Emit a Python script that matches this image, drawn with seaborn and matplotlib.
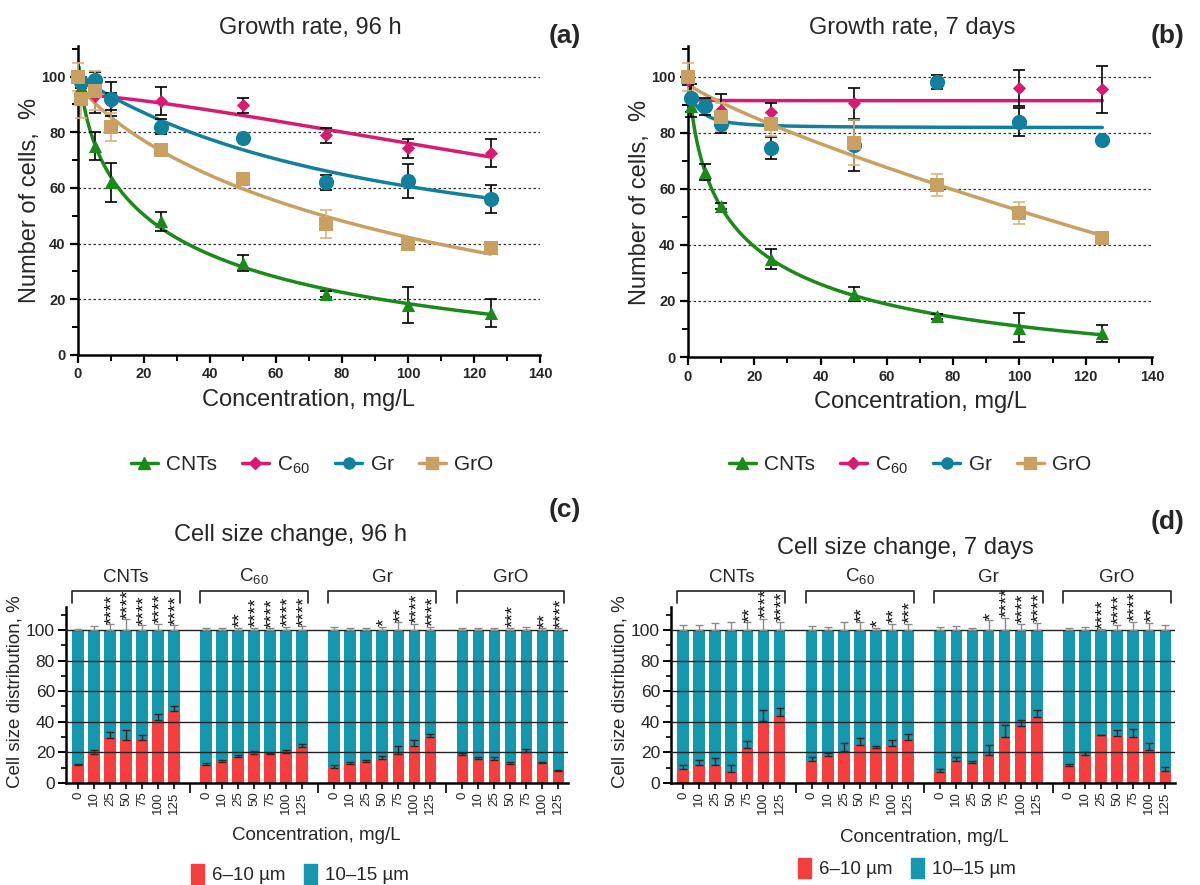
import numpy as np
import pandas as pd
import matplotlib
matplotlib.use("Agg")
import matplotlib.pyplot as plt
import seaborn as sns
from matplotlib.lines import Line2D
from matplotlib.patches import Patch
from matplotlib.ticker import MultipleLocator

sns.set_theme(style="ticks")
plt.rcParams['font.family'] = ['Liberation Sans', 'DejaVu Sans']
plt.rcParams['mathtext.fontset'] = 'custom'
plt.rcParams['mathtext.rm'] = 'Liberation Sans'
plt.rcParams['mathtext.it'] = 'Liberation Sans:italic'

nan = np.nan

# ---- growth rate data (a, b) ----
conc = np.array([0, 1, 5, 10, 25, 50, 75, 100, 125])
names = ['CNTs', 'C60', 'Gr', 'GrO']
labels = {'CNTs': 'CNTs', 'C60': 'C$_{60}$', 'Gr': 'Gr', 'GrO': 'GrO'}

CNTs_96h = [nan, 96.5, 75, 62, 48, 33, 22, 18, 15]
C60_96h = [nan, nan, 93, 91, 91.3, 89.7, 79, 74.2, 72.5]
Gr_96h = [nan, 98, 98.7, 92, 82, 78, 62, 62.5, 56]
GrO_96h = [100, 92, 95, 82, 73.5, 63.3, 47, 40, 38.5]
CNTs_96h_err = [0, 3, 5, 7, 3.5, 3, 1, 6.5, 5]
C60_96h_err = [0, 0, 6, 3, 5, 2.7, 2.7, 3.5, 5]
Gr_96h_err = [0, 2, 3, 6, 2.7, 0, 2.7, 6, 5]
GrO_96h_err = [5, 7, 7, 5, 1, 1, 5, 1, 1.5]

CNTs_7d = [nan, 89.5, 66, 54, 35, 22.5, 14.5, 10.5, 8.5]
C60_7d = [99, nan, nan, 88, 87.5, 90.5, nan, 96, 95.5]
Gr_7d = [nan, 92.3, 89.5, 83, 74.5, 75.5, 98, 84, 77.5]
GrO_7d = [100, nan, nan, 85.5, 83, 76.5, 61.3, 51.4, 42.6]
CNTs_7d_err = [0, 4, 3, 1, 3.5, 2.5, 1, 5.3, 3]
C60_7d_err = [2, 0, 0, 6, 3, 5.5, 0, 6.5, 8.5]
Gr_7d_err = [0, 5, 3, 3, 4, 9, 2.5, 5, 0]
GrO_7d_err = [5, 0, 0, 5, 4, 8, 4, 4, 2]

# ---- cell size data (c, d): share of 6-10 um cells ----
bar_conc = [0, 10, 25, 50, 75, 100, 125]
small_96h = {
    'CNTs': [11.5, 19.1, 29.6, 27.8, 28.3, 41.1, 47],
    'C60': [12, 13.9, 16.7, 19.1, 18.7, 19.3, 23.3],
    'Gr': [10, 12.2, 13.7, 15.7, 18.9, 23.9, 30],
    'GrO': [18, 15.7, 15.2, 12.2, 20, 13, 7.6],
}
err_96h = {
    'CNTs': [0.7, 2.6, 3.7, 7, 3, 4, 3],
    'C60': [1, 1, 1.5, 1.5, 1, 2, 2.5],
    'Gr': [2, 1.5, 1.5, 2, 5, 4, 2],
    'GrO': [1.5, 1, 1.5, 1.5, 2, 1, 1],
}
stars_96h = {
    'CNTs': ['', '', '****', '****', '****', '****', '****'],
    'C60': ['', '', '**', '****', '****', '****', '****'],
    'Gr': ['', '', '', '*', '**', '****', '****'],
    'GrO': ['', '', '', '***', '', '**', '****'],
}
small_7d = {
    'CNTs': [8.9, 11.7, 11.5, 7, 22.6, 40.4, 43.7],
    'C60': [14.6, 17.4, 21.1, 24.6, 22.8, 24.3, 27.8],
    'Gr': [7.2, 14.6, 13.3, 18.5, 30, 37.2, 42.8],
    'GrO': [11.3, 18, 31.3, 30.9, 30, 21.3, 7.6],
}
err_7d = {
    'CNTs': [3, 3.3, 4.8, 5, 5, 7.4, 5.5],
    'C60': [2.5, 2, 5, 5, 1.5, 4, 4],
    'Gr': [2, 2.5, 1, 6.5, 8, 4, 4.8],
    'GrO': [1, 2, 0.3, 3.5, 5.5, 4.8, 3],
}
stars_7d = {
    'CNTs': ['', '', '', '', '**', '****', '****'],
    'C60': ['', '', '', '**', '*', '**', '***'],
    'Gr': ['', '', '', '*', '****', '****', '****'],
    'GrO': ['', '', '****', '****', '****', '**', ''],
}

colors = {'CNTs': '#1a8a1a', 'C60': '#d81b70', 'Gr': '#12809c', 'GrO': '#c9a062'}
markers = {'CNTs': '^', 'C60': 'D', 'Gr': 'o', 'GrO': 's'}
msize = {'CNTs': 90, 'C60': 45, 'Gr': 120, 'GrO': 105}
ecol = {'CNTs': 'black', 'C60': 'black', 'Gr': 'black', 'GrO': '#d8b47c'}
red = '#f53f3f'
teal = '#1597ad'


def fit_curve(x, y):
    # least squares fit of y = bottom + (top - bottom) / (1 + (x/ec)^h)
    best = None
    for ec in np.geomspace(0.3, 3000, 180):
        for h in np.linspace(0.6, 1.4, 17):
            g = 1.0 / (1.0 + (x / ec) ** h)
            A = np.column_stack([g, 1 - g])
            coef = np.linalg.lstsq(A, y, rcond=None)[0]
            sse = ((A @ coef - y) ** 2).sum()
            if best is None or sse < best[0]:
                best = (sse, coef[0], coef[1], ec, h)
    return best[1:]


def draw_growth(ax, vals, errs):
    for n in names:
        y = np.array(vals[n], float)
        e = np.array(errs[n], float)
        m = ~np.isnan(y)
        top, bottom, ec, h = fit_curve(conc[m].astype(float), y[m])
        xs = np.linspace(0.3, 125, 300)
        ys = bottom + (top - bottom) / (1 + (xs / ec) ** h)
        sns.lineplot(x=xs, y=ys, color=colors[n], lw=2.5, ax=ax, zorder=2)
        ax.errorbar(conc[m], y[m], yerr=e[m], fmt='none', ecolor=ecol[n],
                    elinewidth=1.2, capsize=4, capthick=1.2, zorder=3, clip_on=False)
        sns.scatterplot(x=conc[m], y=y[m], marker=markers[n], s=msize[n],
                        color=colors[n], linewidth=0, ax=ax, zorder=4, clip_on=False)
    ax.set_xlim(0, 140)
    ax.set_ylim(0, 111)
    ax.xaxis.set_major_locator(MultipleLocator(20))
    ax.xaxis.set_minor_locator(MultipleLocator(10))
    ax.yaxis.set_major_locator(MultipleLocator(20))
    ax.yaxis.set_minor_locator(MultipleLocator(10))
    for yv in [20, 40, 60, 80, 100]:
        ax.axhline(yv, color='#333333', lw=0.9, ls=(0, (2, 2)), zorder=1)
    for s in ['top', 'right']:
        ax.spines[s].set_visible(False)
    for s in ['left', 'bottom']:
        ax.spines[s].set_linewidth(1.8)
        ax.spines[s].set_color('black')
    ax.tick_params(which='major', length=6, width=1.6, labelsize=10.5, color='black', pad=3)
    ax.tick_params(which='minor', length=4, width=1.4, color='black')
    for lab in ax.get_xticklabels() + ax.get_yticklabels():
        lab.set_fontweight('bold')
    ax.set_xlabel('')
    ax.set_ylabel('')


def draw_bars(ax, small, err, stars):
    rows = []
    order = []
    for g, grp in enumerate(names):
        for i, c in enumerate(bar_conc):
            rows.append({'key': f'{grp}_{c}', 'small': small[grp][i], 'total': 100})
            order.append(f'{grp}_{c}')
        if g < 3:
            order.append(f'gap{g}')
    df = pd.DataFrame(rows)
    sns.barplot(data=df, x='key', y='total', order=order, color=teal, saturation=1,
                width=0.72, errorbar=None, linewidth=0, ax=ax, zorder=1)
    sns.barplot(data=df, x='key', y='small', order=order, color=red, saturation=1,
                width=0.72, errorbar=None, linewidth=0, ax=ax, zorder=2)
    for yv in [20, 40, 60, 80, 100]:
        ax.axhline(yv, color='#222222', lw=1.0, zorder=3)
    bar_pos = []
    for grp in names:
        pos = np.array([order.index(f'{grp}_{c}') for c in bar_conc])
        bar_pos += list(pos)
        s = np.array(small[grp])
        e = np.array(err[grp])
        z = np.zeros_like(e)
        ax.errorbar(pos, s, yerr=[z, e], fmt='none', ecolor='#3a2020', elinewidth=1,
                    capsize=3, capthick=1, zorder=4)
        ax.errorbar(pos, np.full(len(pos), 100), yerr=[z, e], fmt='none', ecolor='#8a8a8a',
                    elinewidth=1, capsize=3, capthick=1, zorder=4, clip_on=False)
        for p, sv, ev in zip(pos, stars[grp], e):
            if sv:
                ax.text(p + 0.18, 100 + ev + 0.3, sv, rotation=90, ha='center', va='bottom',
                        fontsize=13.5, zorder=5, clip_on=False, color='#111111')
        x0, x1 = pos[0] - 0.36, pos[-1] + 0.36
        ax.plot([x0, x0, x1, x1], [117.5, 125.5, 125.5, 117.5], color='#222222', lw=1.2,
                clip_on=False)
        ax.text((x0 + x1) / 2, 129, labels[grp], ha='center', va='bottom', fontsize=13.5)
    ax.set_xlim(-0.75, 30.6)
    ax.set_ylim(0, 115)
    ax.set_xticks(bar_pos)
    ax.set_xticklabels([str(c) for c in bar_conc] * 4, rotation=90, fontsize=9.5)
    ax.set_xticks([7, 15, 23], minor=True)
    ax.yaxis.set_major_locator(MultipleLocator(20))
    ax.yaxis.set_minor_locator(MultipleLocator(10))
    for s in ['top', 'right']:
        ax.spines[s].set_visible(False)
    for s in ['left', 'bottom']:
        ax.spines[s].set_linewidth(1.8)
        ax.spines[s].set_color('black')
    ax.tick_params(axis='y', which='major', length=6, width=1.4, labelsize=12.5, color='black',
                   pad=2)
    ax.tick_params(axis='y', which='minor', length=3.5, width=1.2, color='black')
    ax.tick_params(axis='x', which='major', length=4, width=1.2, pad=2, color='black')
    ax.tick_params(axis='x', which='minor', length=7, width=1.2, color='black')
    ax.set_xlabel('')
    ax.set_ylabel('')


W, H = 1200, 885
fig = plt.figure(figsize=(12, 8.85), dpi=100)


def box(l, t, r, b):
    return [l / W, 1 - b / H, (r - l) / W, (b - t) / H]


ax_a = fig.add_axes(box(78, 46, 540, 355))
ax_b = fig.add_axes(box(688, 46, 1152, 357))
ax_c = fig.add_axes(box(66, 607, 568, 783))
ax_d = fig.add_axes(box(671, 607, 1175, 783))

draw_growth(ax_a, {'CNTs': CNTs_96h, 'C60': C60_96h, 'Gr': Gr_96h, 'GrO': GrO_96h},
            {'CNTs': CNTs_96h_err, 'C60': C60_96h_err, 'Gr': Gr_96h_err, 'GrO': GrO_96h_err})
draw_growth(ax_b, {'CNTs': CNTs_7d, 'C60': C60_7d, 'Gr': Gr_7d, 'GrO': GrO_7d},
            {'CNTs': CNTs_7d_err, 'C60': C60_7d_err, 'Gr': Gr_7d_err, 'GrO': GrO_7d_err})
draw_bars(ax_c, small_96h, err_96h, stars_96h)
draw_bars(ax_d, small_7d, err_7d, stars_7d)


def ftext(x, y, s, **kw):
    fig.text(x / W, 1 - y / H, s, ha='center', va='center', **kw)


ftext(310, 28, 'Growth rate, 96 h', fontsize=17)
ftext(912, 28, 'Growth rate, 7 days', fontsize=17)
ftext(290, 535, 'Cell size change, 96 h', fontsize=17)
ftext(905, 548, 'Cell size change, 7 days', fontsize=17)
for x, y, s in [(565, 36, '(a)'), (1168, 36, '(b)'), (565, 510, '(c)'), (1168, 522, '(d)')]:
    ftext(x, y, s, fontsize=19, fontweight='bold')
ftext(309, 400, 'Concentration, mg/L', fontsize=17)
ftext(920, 402, 'Concentration, mg/L', fontsize=17)
ftext(30, 200, 'Number of cells,  %', fontsize=17, rotation=90)
ftext(640, 202, 'Number of cells,  %', fontsize=17, rotation=90)
ftext(316, 836, 'Concentration, mg/L', fontsize=13.5)
ftext(924, 838, 'Concentration, mg/L', fontsize=13.5)
ftext(15, 692, 'Cell size distribution, %', fontsize=13.5, rotation=90)
ftext(620, 692, 'Cell size distribution, %', fontsize=13.5, rotation=90)

top_handles = [Line2D([0], [0], color=colors[n], marker=markers[n], lw=2.5,
                      markersize=8 if n != 'C60' else 6, label=labels[n]) for n in names]
for cx in [312, 910]:
    fig.legend(handles=top_handles, loc='center', bbox_to_anchor=(cx / W, 1 - 465 / H),
               ncol=4, frameon=False, fontsize=15, handlelength=1.3, handletextpad=0.4,
               columnspacing=1.2)

bot_handles = [Patch(color=red, label='6–10 µm'), Patch(color=teal, label='10–15 µm')]
for cx, cy in [(300, 874), (907, 868)]:
    fig.legend(handles=bot_handles, loc='center', bbox_to_anchor=(cx / W, 1 - cy / H),
               ncol=2, frameon=False, fontsize=13.5, handlelength=0.7, handleheight=1.3,
               handletextpad=0.4, columnspacing=1.0)

fig.savefig('out.png', dpi=100)
